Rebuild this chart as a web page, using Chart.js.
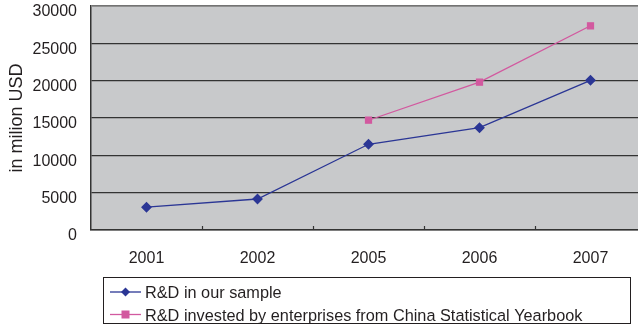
<!DOCTYPE html>
<html>
<head>
<meta charset="utf-8">
<script src="https://cdn.jsdelivr.net/npm/chart.js@4/dist/chart.umd.min.js"></script>
<style>
  html, body { margin: 0; padding: 0; background: #ffffff; overflow: hidden; }
  #wrap { width: 638px; height: 325px; overflow: hidden; position: relative; }
  canvas { display: block; }
</style>
</head>
<body>
<div id="wrap"><canvas id="c" width="660" height="325"></canvas></div>
<script>
// Years on the category axis
const years = ['2001', '2002', '2005', '2006', '2007'];
// R&D spending, million USD
const sampleRD = [3050, 4150, 11480, 13700, 20050];
const yearbookRD = [null, null, 14700, 19800, 27350];
const seriesNames = ['R&D in our sample', 'R&D invested by enterprises from China Statistical Yearbook'];
const yTitle = 'in milion USD';

const FONT = 'Liberation Sans, Arial, sans-serif';
const INK = '#231f20';

// Grey plot background, light top border, inward category ticks
const plotFrame = {
  id: 'plotFrame',
  beforeDatasetsDraw(chart) {
    const { ctx, chartArea: a, scales } = chart;
    ctx.save();
    const xs = scales.x;
    const step = xs.getPixelForValue(1) - xs.getPixelForValue(0);
    ctx.strokeStyle = '#333';
    ctx.lineWidth = 1.2;
    for (let i = 0; i < years.length; i++) {
      const x = Math.round(xs.getPixelForValue(i) + step / 2) + 0.5;
      ctx.beginPath();
      ctx.moveTo(x, a.bottom);
      ctx.lineTo(x, a.bottom - 4);
      ctx.stroke();
    }
    ctx.restore();
  },
  beforeDraw(chart) {
    const { ctx, chartArea: a } = chart;
    ctx.save();
    ctx.fillStyle = '#c8c9cb';
    ctx.fillRect(a.left, a.top, a.right - a.left, a.bottom - a.top);
    ctx.restore();
  },
  afterDraw(chart) {
    const { ctx, chartArea: a } = chart;
    ctx.save();
    ctx.strokeStyle = '#8a8a8a';
    ctx.lineWidth = 1.5;
    ctx.beginPath();
    ctx.moveTo(a.left, a.top);
    ctx.lineTo(a.right, a.top);
    ctx.stroke();
    ctx.restore();
  }
};

// Boxed legend below the plot, line sample with marker
const boxLegend = {
  id: 'boxLegend',
  afterDraw(chart) {
    const { ctx } = chart;
    const box = { x: 103.5, y: 277.5, w: 527, h: 46 };
    ctx.save();
    ctx.fillStyle = '#ffffff';
    ctx.fillRect(box.x, box.y, box.w, box.h);
    ctx.strokeStyle = '#231f20';
    ctx.lineWidth = 1;
    ctx.strokeRect(box.x, box.y, box.w, box.h);
    ctx.font = '16.3px ' + FONT;
    ctx.textBaseline = 'middle';
    chart.data.datasets.forEach((ds, i) => {
      const y = 292 + i * 22.5;
      ctx.strokeStyle = ds.borderColor;
      ctx.lineWidth = 1.3;
      ctx.beginPath();
      ctx.moveTo(110, y);
      ctx.lineTo(141, y);
      ctx.stroke();
      ctx.fillStyle = ds.pointBackgroundColor;
      if (ds.pointStyle === 'rectRot') {
        ctx.beginPath();
        ctx.moveTo(125.5, y - 4.5);
        ctx.lineTo(130, y);
        ctx.lineTo(125.5, y + 4.5);
        ctx.lineTo(121, y);
        ctx.closePath();
        ctx.fill();
      } else {
        ctx.fillRect(121.5, y - 4, 8, 8);
      }
      ctx.fillStyle = INK;
      ctx.fillText(ds.label, 145, y + 2);
    });
    ctx.restore();
  }
};

new Chart(document.getElementById('c'), {
  type: 'line',
  data: {
    labels: years,
    datasets: [
      {
        label: seriesNames[0],
        data: sampleRD,
        borderColor: '#2b3695',
        backgroundColor: '#2b3695',
        pointBackgroundColor: '#2b3695',
        pointBorderColor: '#2b3695',
        pointStyle: 'rectRot',
        pointRadius: 4.5,
        borderWidth: 1.3,
        tension: 0
      },
      {
        label: seriesNames[1],
        data: yearbookRD,
        borderColor: '#d2599f',
        backgroundColor: '#d2599f',
        pointBackgroundColor: '#d2599f',
        pointBorderColor: '#d2599f',
        pointStyle: 'rect',
        pointRadius: 4.2,
        borderWidth: 1.3,
        tension: 0
      }
    ]
  },
  options: {
    responsive: false,
    animation: false,
    events: [],
    layout: { padding: { top: 6, right: 14, left: 0, bottom: 0 } },
    plugins: { legend: { display: false }, tooltip: { enabled: false } },
    scales: {
      x: {
        offset: true,
        grid: { display: false, drawTicks: false },
        border: { display: true, color: '#333', width: 1.5 },
        ticks: { color: INK, font: { family: FONT, size: 16 }, padding: 19, maxRotation: 0 },
        afterFit(scale) {
          scale.height = 95;
          scale.paddingLeft = 0;
          scale.paddingRight = 0;
        }
      },
      y: {
        min: 0,
        max: 30000,
        grid: { color: '#333', lineWidth: 1.3, drawTicks: false },
        border: { display: true, color: '#333', width: 1.5 },
        ticks: {
          stepSize: 5000,
          color: INK,
          font: { family: FONT, size: 16 },
          padding: 14,
          labelOffset: 6,
          callback: (v) => String(v)
        },
        title: {
          display: true,
          text: yTitle,
          color: INK,
          font: { family: FONT, size: 18 },
          padding: { top: 6.5, bottom: 0 }
        },
        afterFit(scale) {
          scale.width = 91;
          scale.paddingTop = 0;
          scale.paddingBottom = 0;
        }
      }
    }
  },
  plugins: [plotFrame, boxLegend]
});
</script>
</body>
</html>
